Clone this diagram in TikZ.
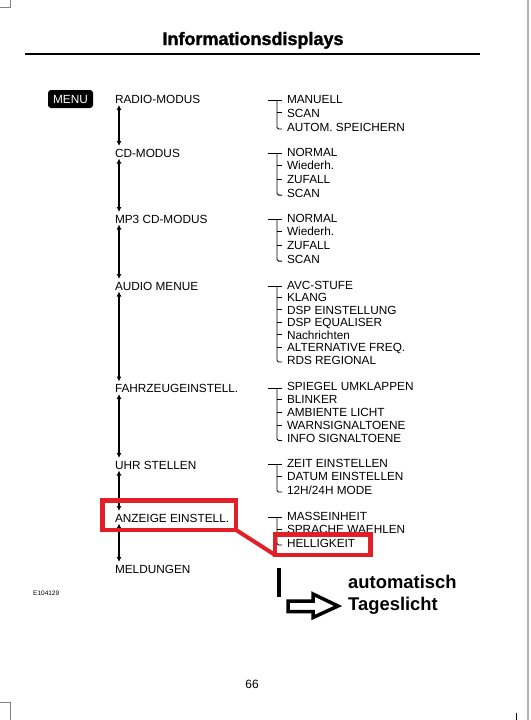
\documentclass[tikz,border=0pt]{standalone}
\usepackage{fontspec}
\setmainfont{Liberation Sans}
\newfontfamily\headfont{Liberation Sans}[BoldFeatures={FakeBold=1.6}]
\usetikzlibrary{arrows.meta}
\definecolor{markred}{RGB}{226,30,38}

\begin{document}
\begin{tikzpicture}[x=1pt, y=-1pt,
    item/.style={anchor=base west, inner sep=0pt, outer sep=0pt, text height=8.5pt, text depth=0pt, font=\fontsize{11.8}{13}\selectfont},
    menubox/.style={fill=black, rounded corners=3pt, text=white, minimum width=45pt, minimum height=18pt, inner sep=0pt, font=\fontsize{11.8}{13}\selectfont},
    arrow/.style={{Latex[length=5pt,width=5pt]}-{Latex[length=5pt,width=5pt]}, line width=1.1pt, shorten <=1.5pt, shorten >=2.5pt},
    tree/.style={line width=0.9pt},
    hlbox/.style={draw=markred, line width=4.5pt, inner sep=0pt, outer sep=0pt},
    hlline/.style={draw=markred, line width=4pt},
    note/.style={anchor=base west, inner sep=0pt, font=\fontsize{18.4}{20}\selectfont\bfseries}
]
\useasboundingbox (0,0) rectangle (530,720);

% Page
\draw[gray!60, line width=1.5pt] (528,0) -- (528,720);
\draw[gray, line width=0.8pt] (10,0) -- (10,7) -- (0,7);
\draw[gray, line width=0.8pt] (0,702) -- (10,702) -- (10,720);
\draw[line width=0.8pt] (516,713) -- (516,720);
\node[anchor=base, inner sep=0pt, font=\headfont\fontsize{18}{20}\selectfont\bfseries] (title) at (253,45) {Informationsdisplays};
\draw[line width=1.3pt] (25,54) -- (480,54);

% Menu
\node[menubox] (menu) at (70.5,99) {MENU};
\node[item] (radio) at (115,103.5) {RADIO-MODUS};
\node[item] (cd) at (115,157) {CD-MODUS};
\node[item] (mp3) at (115,223) {MP3 CD-MODUS};
\node[item] (audio) at (115,290) {AUDIO MENUE};
\node[item] (fahrzeug) at (115,392.5) {FAHRZEUGEINSTELL.};
\node[item] (uhr) at (115,469) {UHR STELLEN};
\node[item] (anzeige) at (115,522) {ANZEIGE EINSTELL.};
\node[item] (meldungen) at (115,573) {MELDUNGEN};

\foreach \a/\b in {radio/cd, cd/mp3, mp3/audio, audio/fahrzeug, fahrzeug/uhr, uhr/anzeige, anzeige/meldungen}
    \draw[arrow] ([xshift=4pt]\a.south west) -- ([xshift=4pt]\b.north west);

% Submenus
\foreach \t [count=\i] in {MANUELL, SCAN, AUTOM. SPEICHERN}
    \node[item] (radio\i) at (287,{103+14*(\i-1)}) {\t};
\foreach \t [count=\i] in {NORMAL, Wiederh., ZUFALL, SCAN}
    \node[item] (cd\i) at (287,{156+13.7*(\i-1)}) {\t};
\foreach \t [count=\i] in {NORMAL, Wiederh., ZUFALL, SCAN}
    \node[item] (mp3\i) at (287,{222+13.7*(\i-1)}) {\t};
\foreach \t [count=\i] in {AVC-STUFE, KLANG, DSP EINSTELLUNG, DSP EQUALISER, Nachrichten, ALTERNATIVE FREQ., RDS REGIONAL}
    \node[item] (audio\i) at (287,{289+12.5*(\i-1)}) {\t};
\foreach \t [count=\i] in {SPIEGEL UMKLAPPEN, BLINKER, AMBIENTE LICHT, WARNSIGNALTOENE, INFO SIGNALTOENE}
    \node[item] (fahrzeug\i) at (287,{390.5+13*(\i-1)}) {\t};
\foreach \t [count=\i] in {ZEIT EINSTELLEN, DATUM EINSTELLEN, 12H/24H MODE}
    \node[item] (uhr\i) at (287,{467+13.5*(\i-1)}) {\t};
\foreach \t [count=\i] in {MASSEINHEIT, SPRACHE WAEHLEN, HELLIGKEIT}
    \node[item] (anzeige\i) at (287,{520+13.5*(\i-1)}) {\t};

% Brackets
\foreach \g/\n in {radio/3, cd/4, mp3/4, audio/7, fahrzeug/5, uhr/3, anzeige/3} {
    \pgfmathtruncatemacro\m{\n-1}
    \draw[tree] ([shift={(-19pt,-1.7pt)}]\g1.west) -- ([shift={(-5pt,-1.7pt)}]\g1.west);
    \draw[tree, rounded corners=1.5pt] ([shift={(-10pt,-1.7pt)}]\g1.west) |- ([shift={(-5pt,2pt)}]\g\n.south west);
    \foreach \k in {2,...,\m}
        \draw[tree] ([xshift=-10pt]\g\k.west) -- ([xshift=-5pt]\g\k.west);
}

% Highlight
\node[hlbox, minimum width=133.5pt, minimum height=29.5pt] (hlA) at (169,515) {};
\node[hlbox, minimum width=95.5pt, minimum height=20.5pt] (hlB) at (322.5,544.5) {};
\draw[hlline] (hlA.south east) -- (hlB.south west);

% Note
\draw[line width=4pt] (279,568) -- (279,597);
\draw[line width=3.5pt] (288,601) -- (313,601) -- (313,594) -- (338,606) -- (313,617.5) -- (313,611.5) -- (288,611.5) -- cycle;
\node[note] (auto) at (348,588) {automatisch};
\node[note] (tag) at (348,610.5) {Tageslicht};

% Footer
\node[anchor=base west, inner sep=0pt, font=\fontsize{6.5}{7}\selectfont] (code) at (33,595) {E104129};
\node[anchor=base, inner sep=0pt, font=\fontsize{12}{14}\selectfont] (page) at (252,688) {66};
\end{tikzpicture}
\end{document}
